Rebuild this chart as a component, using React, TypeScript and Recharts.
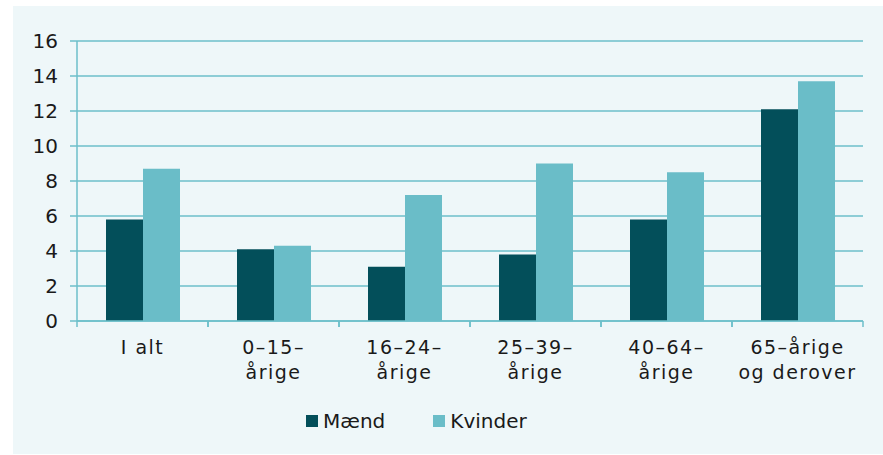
import { BarChart, Bar, XAxis, YAxis, CartesianGrid, Legend } from 'recharts';

const categories = ['I alt', '0–15–\nårige', '16–24–\nårige', '25–39–\nårige', '40–64–\nårige', '65–årige\nog derover'];
const maend = [5.8, 4.1, 3.1, 3.8, 5.8, 12.1];
const kvinder = [8.7, 4.3, 7.2, 9.0, 8.5, 13.7];
const seriesNames = ['Mænd', 'Kvinder'];
const yTicks = [0, 2, 4, 6, 8, 10, 12, 14, 16];

const data = categories.map((name, i) => ({ name, Mænd: maend[i], Kvinder: kvinder[i] }));

const FONT = '"DejaVu Sans", Verdana, sans-serif';
const LINE = '#6cbfca';
const DARK = '#034f5a';
const LIGHT = '#6abdc8';
const TEXT = '#1a1a1a';

// category label plus the small tick marks at the band edges
const CategoryTick = (props: any) => {
  const { x, y, payload } = props;
  const lines = String(payload.value).split('\n');
  const half = payload.offset || 0;
  return (
    <g transform={`translate(${x},${y})`}>
      <line x1={-half} x2={-half} y1={-8} y2={-2} stroke={LINE} strokeWidth={1.5} />
      <line x1={half} x2={half} y1={-8} y2={-2} stroke={LINE} strokeWidth={1.5} />
      <text textAnchor='middle' fontFamily={FONT} fontSize={19} letterSpacing={1.5} fill={TEXT}>
        {lines.map((l, i) => (
          <tspan key={i} x={0} dy={25}>
            {l}
          </tspan>
        ))}
      </text>
    </g>
  );
};

const LegendContent = (props: any) => {
  const items = [...(props.payload || [])].sort(
    (a: any, b: any) => seriesNames.indexOf(a.value) - seriesNames.indexOf(b.value)
  );
  return (
    <div style={{ display: 'flex', alignItems: 'center', fontFamily: FONT, fontSize: 20, color: TEXT }}>
      {items.map((it: any, i: number) => (
        <div key={i} style={{ display: 'flex', alignItems: 'center', marginRight: 48 }}>
          <span style={{ width: 12, height: 12, background: it.color, display: 'inline-block' }} />
          <span style={{ marginLeft: 5 }}>{it.value}</span>
        </div>
      ))}
    </div>
  );
};

export default function App() {
  return (
    <div style={{ position: 'absolute', left: 0, top: 0, width: 883, height: 455, background: '#fff' }}>
      <div style={{ position: 'absolute', left: 13, top: 6, width: 870, height: 448, background: '#eef7f9' }} />
      <div style={{ position: 'absolute', left: 0, top: 0 }}>
        <BarChart
          width={883}
          height={455}
          data={data}
          barGap={0}
          barSize={37}
          margin={{ top: 41, right: 20, left: 17, bottom: 74 }}
        >
          <CartesianGrid vertical={false} stroke={LINE} strokeWidth={1.5} />
          <XAxis
            dataKey='name'
            height={60}
            tickLine={false}
            axisLine={{ stroke: LINE, strokeWidth: 1.5 }}
            tick={<CategoryTick />}
            interval={0}
          />
          <YAxis
            width={60}
            domain={[0, 16]}
            ticks={yTicks}
            tickSize={7}
            tickMargin={12}
            axisLine={{ stroke: LINE, strokeWidth: 1.5 }}
            tickLine={{ stroke: LINE, strokeWidth: 1.5 }}
            tick={{ fontFamily: FONT, fontSize: 20, fill: TEXT }}
          />
          <Legend
            layout='horizontal'
            verticalAlign='middle'
            align='center'
            wrapperStyle={{ top: 409, left: 306, width: 'auto' }}
            content={<LegendContent />}
          />
          <Bar dataKey='Mænd' fill={DARK} isAnimationActive={false} />
          <Bar dataKey='Kvinder' fill={LIGHT} isAnimationActive={false} />
        </BarChart>
      </div>
    </div>
  );
}
